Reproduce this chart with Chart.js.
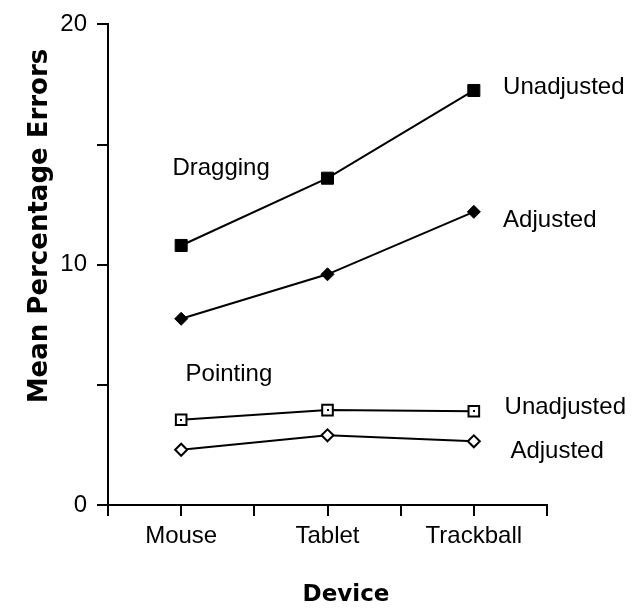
<!DOCTYPE html>
<html>
<head>
<meta charset="utf-8">
<script src="https://cdn.jsdelivr.net/npm/chart.js@4.4.1/dist/chart.umd.min.js"></script>
<style>
  html, body { margin: 0; padding: 0; background: #fff; }
</style>
</head>
<body>
<canvas id="chart" width="633" height="608"></canvas>
<script>
// Data
const devices = ["Mouse", "Tablet", "Trackball"];
const draggingUnadjusted = [10.8, 13.6, 17.25];
const draggingAdjusted = [7.75, 9.6, 12.2];
const pointingUnadjusted = [3.55, 3.95, 3.9];
const pointingAdjusted = [2.3, 2.9, 2.65];
const yLabelled = [0, 10, 20];

const FONT = "'Liberation Sans', Arial, sans-serif";
const TITLE_FONT = "'DejaVu Sans', Verdana, sans-serif";

// Text placed in data space: [text, category index, y value]
const notes = [
  ["Dragging", -0.06, 14.0],
  ["Pointing", 0.03, 5.45],
  ["Unadjusted", 2.2, 17.4],
  ["Adjusted", 2.2, 11.85],
  ["Unadjusted", 2.21, 4.05],
  ["Adjusted", 2.25, 2.25]
];

// Draws the extra axis ticks, the dots inside hollow squares, the notes and the titles
const extrasPlugin = {
  id: "extras",
  afterDraw(chart) {
    const ctx = chart.ctx;
    const xs = chart.scales.x;
    const ys = chart.scales.y;
    ctx.save();

    // tick marks under each category centre
    ctx.strokeStyle = "#000";
    ctx.lineWidth = 2;
    devices.forEach((d, i) => {
      const px = Math.round(xs.getPixelForValue(i));
      ctx.beginPath();
      ctx.moveTo(px, xs.top);
      ctx.lineTo(px, xs.top + 11);
      ctx.stroke();
    });

    // small dot inside the hollow squares
    ctx.fillStyle = "#000";
    chart.getDatasetMeta(2).data.forEach(p => {
      ctx.fillRect(Math.round(p.x) - 1, Math.round(p.y) - 1, 2, 2);
    });

    // notes
    ctx.font = "24px " + FONT;
    ctx.textAlign = "left";
    ctx.textBaseline = "middle";
    notes.forEach(([text, xi, yv]) => {
      ctx.fillText(text, xs.getPixelForValue(xi), ys.getPixelForValue(yv));
    });

    // axis titles
    ctx.font = "bold 26px " + TITLE_FONT;
    ctx.textAlign = "center";
    ctx.save();
    ctx.translate(40, 226);
    ctx.rotate(-Math.PI / 2);
    ctx.fillText("Mean Percentage Errors", 0, 0);
    ctx.restore();

    ctx.font = "bold 23px " + TITLE_FONT;
    ctx.fillText("Device", 346, 595);

    ctx.restore();
  }
};

function lineSet(label, data, style, radius, filled) {
  return {
    label: label,
    data: data,
    borderColor: "#000",
    borderWidth: 2,
    pointStyle: style,
    pointRadius: radius,
    pointBorderWidth: filled ? 1 : 2,
    pointBorderColor: "#000",
    pointBackgroundColor: filled ? "#000" : "#fff",
    tension: 0,
    fill: false
  };
}

new Chart(document.getElementById("chart"), {
  type: "line",
  data: {
    labels: devices,
    datasets: [
      lineSet("Dragging Unadjusted", draggingUnadjusted, "rect", 8.5, true),
      lineSet("Dragging Adjusted", draggingAdjusted, "rectRot", 6.5, true),
      lineSet("Pointing Unadjusted", pointingUnadjusted, "rect", 7.5, false),
      lineSet("Pointing Adjusted", pointingAdjusted, "rectRot", 6, false)
    ]
  },
  options: {
    responsive: false,
    animation: false,
    layout: { padding: { top: 18, right: 86, bottom: 0, left: 0 } },
    plugins: {
      legend: { display: false },
      tooltip: { enabled: false }
    },
    scales: {
      x: {
        type: "category",
        offset: true,
        border: { color: "#000", width: 2 },
        grid: { offset: true, drawOnChartArea: false, color: "#000", lineWidth: 2, tickLength: 11 },
        ticks: { color: "#000", font: { family: FONT, size: 24 }, padding: 6, maxRotation: 0 },
        afterFit: s => { s.height = 103; }
      },
      y: {
        min: 0,
        max: 20,
        border: { color: "#000", width: 2 },
        grid: { drawOnChartArea: false, color: "#000", lineWidth: 2, tickLength: 11 },
        ticks: {
          stepSize: 5,
          color: "#000",
          font: { family: FONT, size: 24 },
          padding: 10,
          callback: v => (yLabelled.includes(v) ? v : "")
        },
        afterFit: s => { s.width = 108; }
      }
    }
  },
  plugins: [extrasPlugin]
});
</script>
</body>
</html>
